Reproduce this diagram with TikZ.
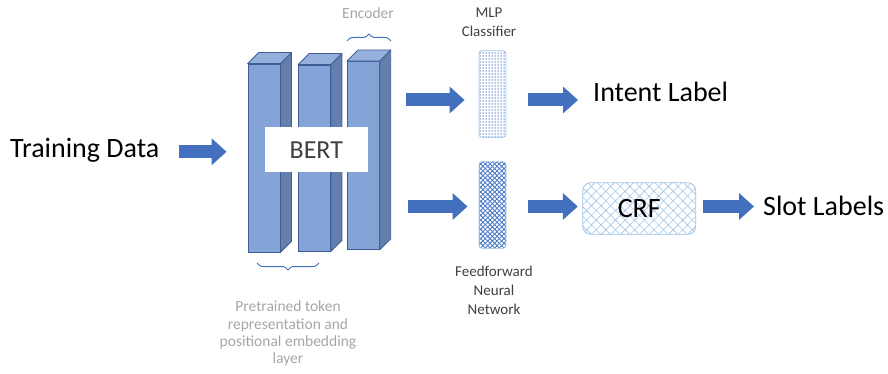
\documentclass[tikz,border=0pt]{standalone}
\usepackage{fontspec}
\setmainfont{Carlito}
\usepackage{tikz}
\usetikzlibrary{positioning,calc,arrows.meta,patterns.meta,decorations.pathreplacing}
\definecolor{arrowblue}{RGB}{66,111,190}
\definecolor{faceblue}{RGB}{132,163,214}
\definecolor{sideblue}{RGB}{101,127,172}
\definecolor{topblue}{RGB}{150,176,222}
\definecolor{edgeblue}{RGB}{62,92,150}
\definecolor{boxblue}{RGB}{160,196,232}
\definecolor{dotblue}{RGB}{80,125,200}
\definecolor{greytext}{RGB}{166,166,166}
\definecolor{darktext}{RGB}{64,64,64}

\begin{document}
\begin{tikzpicture}[x=1pt,y=-1pt]
\tikzstyle{every node}+=[inner sep=0pt]
\tikzstyle{blockface}=[draw=edgeblue,fill=faceblue,line width=0.8pt,minimum width=32pt]
\tikzstyle{blockside}=[draw=edgeblue,fill=sideblue,line width=0.8pt,line join=round]
\tikzstyle{blocktop}=[draw=edgeblue,fill=topblue,line width=0.8pt,line join=round]
\tikzstyle{blockarrow}=[arrowblue,line width=13pt,-{Triangle[length=15pt,width=26pt]}]
\tikzstyle{bigtext}=[font=\fontsize{28}{30}\selectfont]
\tikzstyle{smalltext}=[font=\fontsize{15}{18.7}\selectfont,text=darktext,align=center]
\tikzstyle{greylabel}=[font=\fontsize{15.5}{17.3}\selectfont,text=greytext,align=center]
\tikzstyle{bluebrace}=[draw=arrowblue,line width=1pt,decorate,decoration={brace,amplitude=7pt}]
\useasboundingbox (0,0) rectangle (888,374);
\coordinate (up) at (0,100);
\coordinate (lo) at (0,206.5);
\node [bigtext,anchor=base west] (train) at (10,158) {Training Data};
\node [blockface,minimum height=188pt] (enc1) at (264,158) {};
\draw [blockside] (enc1.north east) -- ++(11,-11) -- ($(enc1.south east)+(11,-11)$) -- (enc1.south east) -- cycle;
\draw [blocktop] (enc1.north west) -- ++(11,-11) -- ($(enc1.north east)+(11,-11)$) -- (enc1.north east) -- cycle;
\node [blockface,minimum height=186pt] (enc2) at (314.5,158) {};
\draw [blockside] (enc2.north east) -- ++(11,-11) -- ($(enc2.south east)+(11,-11)$) -- (enc2.south east) -- cycle;
\draw [blocktop] (enc2.north west) -- ++(11,-11) -- ($(enc2.north east)+(11,-11)$) -- (enc2.north east) -- cycle;
\node [blockface,minimum height=188pt] (enc3) at (363.3,155.5) {};
\draw [blockside] (enc3.north east) -- ++(11,-11) -- ($(enc3.south east)+(11,-11)$) -- (enc3.south east) -- cycle;
\draw [blocktop] (enc3.north west) -- ++(11,-11) -- ($(enc3.north east)+(11,-11)$) -- (enc3.north east) -- cycle;
\node [fill=white,minimum width=103pt,minimum height=45pt,font=\fontsize{26}{28}\selectfont,text=darktext] (bert) at (316.3,150) {BERT};
\draw [bluebrace] (347,41) -- (391,41);
\node [greylabel] (enclabel) at (368,13) {Encoder};
\draw [bluebrace] (319,263) -- (257,263);
\node [greylabel,anchor=north] (embedlabel) at (288,301) {Pretrained token\\representation and\\positional embedding\\layer};
\node [draw=boxblue,line width=0.8pt,rounded corners=3pt,minimum width=27pt,minimum height=86.6pt,
  pattern={Dots[distance=3pt,radius=0.75pt]},pattern color=dotblue] (mlp) at (492.5,94) {};
\node [smalltext] (mlplabel) at (489,22) {MLP\\Classifier};
\node [draw=boxblue,line width=0.8pt,rounded corners=3pt,minimum width=27pt,minimum height=86.6pt,
  pattern={Hatch[angle=45,distance=3.3pt,line width=0.9pt]},pattern color=dotblue] (ffn) at (492.5,205) {};
\node [smalltext,anchor=north] (ffnlabel) at (494,266) {Feedforward\\Neural\\Network};
\node [draw=boxblue,line width=0.8pt,rounded corners=8pt,minimum width=113pt,minimum height=51.6pt,
  pattern={Hatch[angle=45,distance=6.8pt,line width=0.6pt]},pattern color=boxblue] (crfbox) at (639.3,208.5) {};
\node [bigtext] (crf) at (crfbox.center) {CRF};
\node [bigtext,anchor=base west] (intent) at (593,101.7) {Intent Label};
\node [bigtext,anchor=base west] (slot) at (763,215) {Slot Labels};
\draw [blockarrow,shorten <=19pt,shorten >=21pt] ($(train.east)+(0,1)$) -- ($(train.east -| enc1.west)+(0,1)$);
\draw [blockarrow,shorten <=26pt,shorten >=14pt] (enc3.east |- up) -- (mlp.west |- up);
\draw [blockarrow,shorten <=22pt,shorten >=15pt] (mlp.east |- up) -- (intent.west |- up);
\draw [blockarrow,shorten <=28pt,shorten >=11pt] (enc3.east |- lo) -- (ffn.west |- lo);
\draw [blockarrow,shorten <=22pt,shorten >=4.7pt] (ffn.east |- lo) -- (crfbox.west |- lo);
\draw [blockarrow,shorten <=7pt,shorten >=9pt] (crfbox.east |- lo) -- (slot.west |- lo);
\end{tikzpicture}
\end{document}
